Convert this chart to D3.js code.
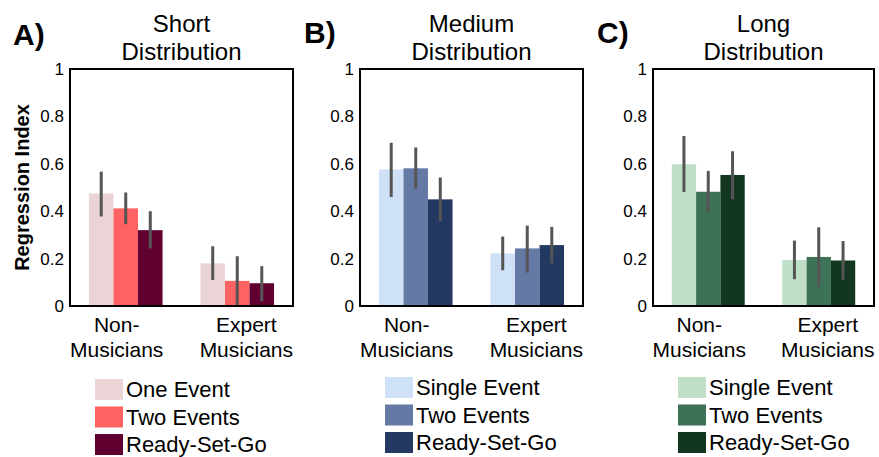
<!DOCTYPE html>
<head>
   <meta charset="utf-8">
   <script src="https://d3js.org/d3.v7.min.js"></script>
   <style>
   body{ margin:0; background:#fff; }
   text{ font-family: "Liberation Sans", Arial, sans-serif; fill:#000; }
   text.panelLabel{ font-size:30px; font-weight:700; }
   text.title{ font-size:24px; }
   text.yTitle{ font-size:20px; font-weight:700; }
   .yAxis .tick text{ font-size:17px; }
   text.group{ font-size:21px; }
   text.legend{ font-size:22px; }
   path.domain{ display:none; }
   </style>
   <title>Regression Index</title>
</head>
<body>
<script>
const width = 879, height = 457;

// data
const groups      = ["Non-Musicians", "Expert Musicians"];
const groupLines  = [["Non-", "Musicians"], ["Expert", "Musicians"]];
const panelLabels = ["A)", "B)", "C)"];
const titles      = [["Short", "Distribution"], ["Medium", "Distribution"], ["Long", "Distribution"]];
const tickValues  = [0, 0.2, 0.4, 0.6, 0.8, 1];
const tickLabels  = ["0", "0.2", "0.4", "0.6", "0.8", "1"];

const seriesShort  = ["One Event", "Two Events", "Ready-Set-Go"];
const seriesMedium = ["Single Event", "Two Events", "Ready-Set-Go"];
const seriesLong   = ["Single Event", "Two Events", "Ready-Set-Go"];

// means per group (Non-Musicians, Expert Musicians) x condition
const meanShort  = [[0.475, 0.412, 0.320], [0.180, 0.106, 0.096]];
const lowShort   = [[0.378, 0.345, 0.243], [0.110, 0.000, 0.020]];
const highShort  = [[0.567, 0.479, 0.400], [0.252, 0.210, 0.168]];

const meanMedium = [[0.576, 0.581, 0.450], [0.222, 0.243, 0.257]];
const lowMedium  = [[0.460, 0.495, 0.358], [0.151, 0.141, 0.180]];
const highMedium = [[0.689, 0.669, 0.542], [0.293, 0.339, 0.334]];

const meanLong   = [[0.598, 0.482, 0.553], [0.194, 0.207, 0.192]];
const lowLong    = [[0.481, 0.396, 0.450], [0.113, 0.081, 0.110]];
const highLong   = [[0.717, 0.570, 0.653], [0.276, 0.332, 0.274]];

const coloursShort  = ["#ebd4d5", "#fe6263", "#5f0031"];
const coloursMedium = ["#cfe1f7", "#6479a4", "#243962"];
const coloursLong   = ["#c0dfc7", "#3d7257", "#12361f"];

const panels = [
   {series: seriesShort,  mean: meanShort,  low: lowShort,  high: highShort,  colours: coloursShort,  left: 70,  right: 293},
   {series: seriesMedium, mean: meanMedium, low: lowMedium, high: highMedium, colours: coloursMedium, left: 360, right: 583},
   {series: seriesLong,   mean: meanLong,   low: lowLong,   high: highLong,   colours: coloursLong,   left: 653, right: 874}
];

const svg = d3.select("body").append("svg")
   .attr("width", width)
   .attr("height", height);

const y = d3.scaleLinear().domain([0, 1]).range([306, 69]);

panels.forEach((p, pi) => {
   const g = svg.append("g");

   const x0 = d3.scaleBand().domain(groups).range([p.left, p.right]);
   const groupW = x0.bandwidth() * 0.66;
   const x1 = d3.scaleBand().domain(p.series).range([0, groupW]);
   const xl = d3.scalePoint().domain(groups).range([p.left, p.right]).padding(0.36);
   const colour = d3.scaleOrdinal().domain(p.series).range(p.colours);

   const rows = [];
   groups.forEach((grp, gi) => {
      p.series.forEach((s, si) => {
         rows.push({group: grp, series: s, value: p.mean[gi][si], lo: p.low[gi][si], hi: p.high[gi][si]});
      });
   });
   const bx = d => x0(d.group) + (x0.bandwidth() - groupW) / 2 + x1(d.series);

   g.selectAll("rect.bar")
      .data(rows)
      .enter()
      .append("rect")
      .attr("class", "bar")
      .attr("x", bx)
      .attr("width", x1.bandwidth())
      .attr("y", d => y(d.value))
      .attr("height", d => y(0) - y(d.value))
      .style("fill", d => colour(d.series));

   g.selectAll("line.err")
      .data(rows)
      .enter()
      .append("line")
      .attr("class", "err")
      .attr("x1", d => bx(d) + x1.bandwidth() / 2)
      .attr("x2", d => bx(d) + x1.bandwidth() / 2)
      .attr("y1", d => y(d.lo))
      .attr("y2", d => y(d.hi))
      .style("stroke", "#555555")
      .style("stroke-width", 3);

   // frame
   g.append("rect")
      .attr("x", p.left)
      .attr("y", y(1))
      .attr("width", p.right - p.left)
      .attr("height", y(0) - y(1))
      .style("fill", "none")
      .style("stroke", "#000")
      .style("stroke-width", 2);

   const yAxis = d3.axisLeft(y)
      .tickValues(tickValues)
      .tickSize(0)
      .tickPadding(6)
      .tickFormat((d, i) => tickLabels[i]);

   g.append("g")
      .attr("class", "axis yAxis")
      .attr("transform", `translate(${p.left}, 0)`)
      .call(yAxis);

   // group labels
   groups.forEach((grp, gi) => {
      const t = g.append("text")
         .attr("class", "group")
         .attr("x", xl(grp))
         .attr("y", 332)
         .style("text-anchor", "middle");
      groupLines[gi].forEach((ln, li) => {
         t.append("tspan").attr("x", xl(grp)).attr("dy", li ? 25 : 0).text(ln);
      });
   });

   // titles
   const cx = (p.left + p.right) / 2;
   g.append("text").attr("class", "title").attr("x", cx).attr("y", 32)
      .style("text-anchor", "middle").text(titles[pi][0]);
   g.append("text").attr("class", "title").attr("x", cx).attr("y", 60)
      .style("text-anchor", "middle").text(titles[pi][1]);

   g.append("text").attr("class", "panelLabel")
      .attr("x", p.left - 57 + (pi ? 1 : 0))
      .attr("y", pi ? 43 : 45)
      .text(panelLabels[pi]);

   // legend
   const leg = g.selectAll("g.leg")
      .data(p.series)
      .enter()
      .append("g")
      .attr("class", "leg")
      .attr("transform", (d, i) => `translate(${p.left + 25}, ${(pi ? 377 : 379) + i * 27.5})`);
   leg.append("rect")
      .attr("width", 28)
      .attr("height", 21)
      .style("fill", d => colour(d));
   leg.append("text")
      .attr("class", "legend")
      .attr("x", 31)
      .attr("y", 18)
      .text(d => d);
});

svg.append("text")
   .attr("class", "yTitle")
   .attr("transform", `translate(29, ${(y(0) + y(1)) / 2}) rotate(-90)`)
   .style("text-anchor", "middle")
   .text("Regression Index");
</script>
</body>
